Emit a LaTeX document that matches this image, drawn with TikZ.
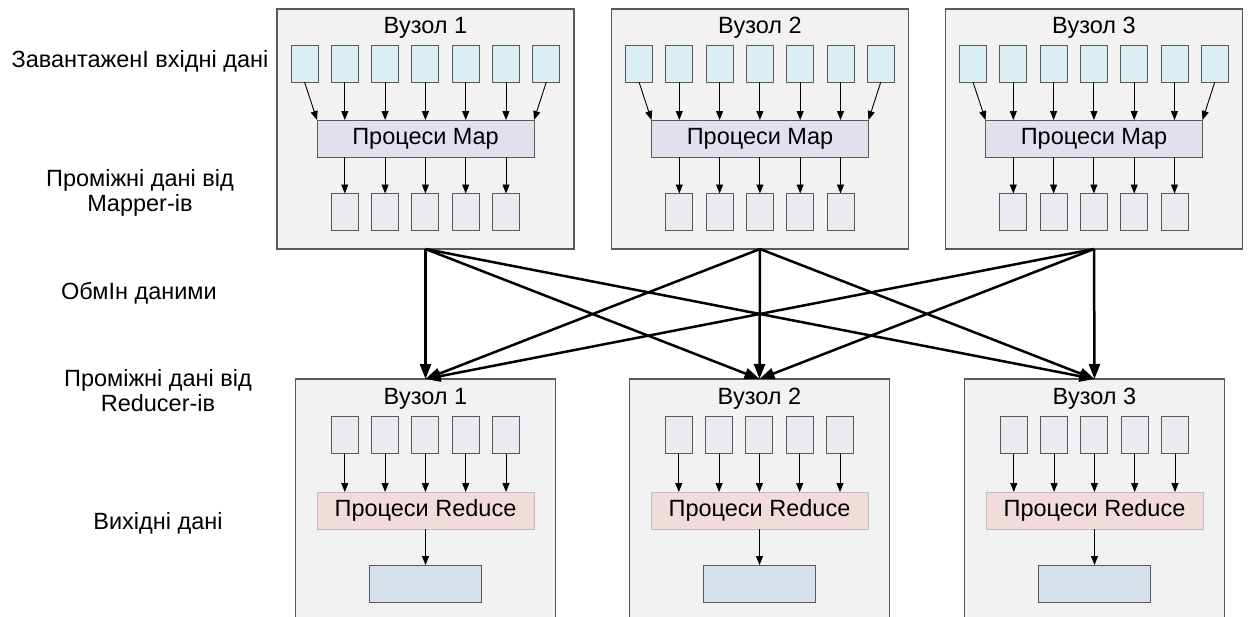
\documentclass[tikz,border=0pt]{standalone}
\usepackage{fontspec}
\setmainfont{Liberation Sans}
\usetikzlibrary{arrows.meta}
\definecolor{hostfill}{HTML}{F2F2F2}
\definecolor{hostline}{HTML}{595959}
\definecolor{infill}{HTML}{DAEEF3}
\definecolor{mapfill}{HTML}{E4DFEC}
\definecolor{midfill}{HTML}{ECEAF1}
\definecolor{redfill}{HTML}{F2DCDB}
\definecolor{redline}{HTML}{C8B8B8}
\definecolor{resfill}{HTML}{D6E0EB}

\begin{document}
\begin{tikzpicture}[x=1pt,y=-1pt,
  every node/.style={font=\fontsize{23.5}{25}\selectfont, inner sep=0pt, outer sep=0pt},
  hostbox/.style={draw=hostline, fill=hostfill, line width=1.1pt, anchor=north},
  inbox/.style={draw=hostline, fill=infill, line width=0.9pt, minimum width=27pt, minimum height=37pt},
  midbox/.style={draw=hostline, fill=midfill, line width=0.9pt, minimum width=27pt, minimum height=37pt},
  mapbox/.style={draw=hostline, fill=mapfill, line width=0.9pt, minimum width=217pt, minimum height=37pt},
  redbox/.style={draw=redline, fill=redfill, line width=0.9pt, minimum width=217pt, minimum height=37pt},
  resbox/.style={draw=hostline, fill=resfill, line width=0.9pt, minimum width=112pt, minimum height=37pt},
  thinarrow/.style={line width=0.9pt, -{Triangle[length=9pt,width=7pt]}},
  bigarrow/.style={line width=2.5pt, -{Triangle[length=15pt,width=11pt]}},
  sidelabel/.style={align=center}]
\useasboundingbox (0,0) rectangle (1248,616);
\clip (0,0) rectangle (1248,616);

% mapper hosts
\foreach \c [count=\i] in {425.5,760,1094}{
  \node[hostbox, minimum width=297pt, minimum height=240pt] (top\i) at (\c,9) {};
  \node (toptitle\i) at (\c,28) {Вузол \i};
  \node[mapbox] (map\i) at (\c,138.5) {Процеси Map};
  \foreach \j in {0,...,6}{
    \node[inbox] (in\i-\j) at ({\c-121+40.3*\j},63.5) {};
  }
  \draw[thinarrow] (in\i-0.south) -- (map\i.north west);
  \draw[thinarrow] (in\i-6.south) -- (map\i.north east);
  \foreach \j in {1,...,5}{
    \draw[thinarrow] (in\i-\j.south) -- (in\i-\j.south |- map\i.north);
    \node[midbox] (out\i-\j) at ({\c-121+40.3*\j},212) {};
    \draw[thinarrow] (map\i.south -| out\i-\j) -- (out\i-\j.north);
  }
}

% reducer hosts
\foreach \c [count=\i] in {425.5,759.5,1094.5}{
  \node[hostbox, minimum width=260pt, minimum height=280pt] (bot\i) at (\c,379) {};
  \node (bottitle\i) at (\c,399) {Вузол \i};
  \node[redbox] (red\i) at (\c,510.5) {Процеси Reduce};
  \foreach \j in {1,...,5}{
    \node[midbox] (part\i-\j) at ({\c-121+40.3*\j},435) {};
    \draw[thinarrow] (part\i-\j.south) -- (part\i-\j.south |- red\i.north);
  }
  \node[resbox] (res\i) at (\c,583.5) {};
  \draw[thinarrow] (red\i.south) -- (res\i.north);
}

% shuffle between mappers and reducers
\foreach \a in {1,2,3}{
  \foreach \b in {1,2,3}{
    \draw[bigarrow] (top\a.south) -- (bot\b.north);
  }
}

% stage labels
\node[sidelabel] (lab1) at (140,61) {ЗавантаженІ вхідні дані};
\node[sidelabel] (lab2) at (140,193) {Проміжні дані від\\Mapper-ів};
\node[sidelabel] (lab3) at (139,293) {ОбмІн даними};
\node[sidelabel] (lab4) at (158,391) {Проміжні дані від\\Reducer-ів};
\node[sidelabel] (lab5) at (158,523) {Вихідні дані};
\end{tikzpicture}
\end{document}
